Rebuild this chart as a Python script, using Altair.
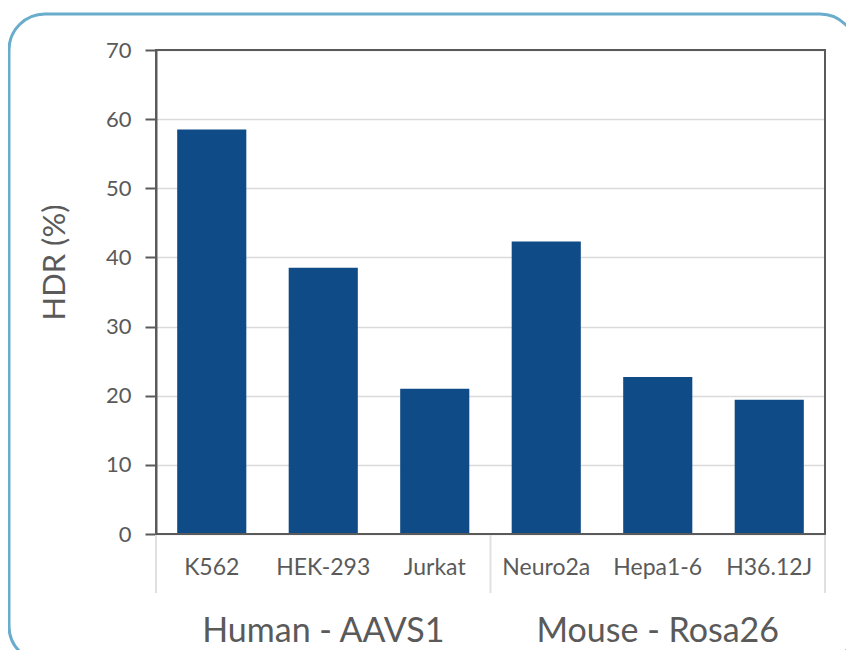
import altair as alt
import pandas as pd

cells = ["K562", "HEK-293", "Jurkat", "Neuro2a", "Hepa1-6", "H36.12J"]
hdr = [58.5, 38.5, 21.0, 42.3, 22.7, 19.4]
groups = ["Human - AAVS1", "Mouse - Rosa26"]
group_center_cell = ["HEK-293", "Hepa1-6"]
separators = [0, 3, 6]
y_ticks = [0, 10, 20, 30, 40, 50, 60, 70]

FONT = "Lato"
GRAY = "#5a5a5a"
W, H = 669, 484
PAD_L, PAD_T, PAD_R, PAD_B = 148, 42, 21, 116

bars_df = pd.DataFrame({"cell": cells, "hdr": hdr})
grp_df = pd.DataFrame({"cell": group_center_cell, "label": groups})
sep_df = pd.DataFrame({"pos": separators})
one_df = pd.DataFrame({"k": [0]})

xscale = alt.Scale(domain=cells, paddingInner=0.38, paddingOuter=0.19)
xaxis = alt.Axis(title=None, labelAngle=0, ticks=False, domain=False,
                 labelFontSize=23, labelColor=GRAY, labelFont=FONT,
                 labelBaseline="middle", labelPadding=33, grid=False)

border = alt.Chart(one_df).mark_rect(
    fill=None, stroke="#6aaccc", strokeWidth=3, cornerRadius=36
).encode(
    x=alt.value(-147), x2=alt.value(W + PAD_R + 10),
    y=alt.value(-36), y2=alt.value(H + PAD_B + 12)
)

bars = alt.Chart(bars_df).mark_bar(color="#0f4b86").encode(
    x=alt.X("cell:N", scale=xscale, sort=cells, axis=xaxis),
    y=alt.Y("hdr:Q", scale=alt.Scale(domain=[0, 70], nice=False),
            axis=alt.Axis(title="HDR (%)", values=y_ticks, grid=True,
                          gridColor="#dadada", gridWidth=1.5,
                          domainColor=GRAY, domainWidth=2,
                          tickColor=GRAY, tickWidth=2, tickSize=11,
                          labelFontSize=22, labelColor=GRAY, labelFont=FONT,
                          labelPadding=14,
                          titleFontSize=31, titleColor=GRAY, titleFont=FONT,
                          titleFontWeight="normal", titleX=-101, titleY=212,
                          titleAngle=270, titleAlign="center",
                          titleBaseline="middle")),
)

grp_text = alt.Chart(grp_df).mark_text(
    fontSize=34, color=GRAY, font=FONT, baseline="middle", align="center"
).encode(
    x=alt.X("cell:N", scale=xscale, sort=cells, axis=xaxis),
    y=alt.value(582),
    text="label:N",
)

frame = alt.Chart(one_df).mark_rect(
    fill=None, stroke=GRAY, strokeWidth=2
).encode(
    x=alt.value(0), x2=alt.value(W), y=alt.value(0), y2=alt.value(H)
)

seps = alt.Chart(sep_df).mark_rule(color="#e0e0e0", strokeWidth=2).encode(
    x=alt.X("pos:Q", scale=alt.Scale(domain=[0, 6], nice=False, zero=False), axis=None),
    y=alt.value(485),
    y2=alt.value(543),
)

chart = alt.layer(border, alt.layer(bars, grp_text), seps, frame).resolve_scale(
    x="independent"
).properties(
    width=W, height=H,
    autosize=alt.AutoSizeParams(type="none"),
    padding={"left": PAD_L, "top": PAD_T, "right": PAD_R, "bottom": PAD_B},
).configure_view(
    stroke=None
).configure(background="white")

chart.save("out.html", embed_options={"renderer": "svg", "actions": False})
